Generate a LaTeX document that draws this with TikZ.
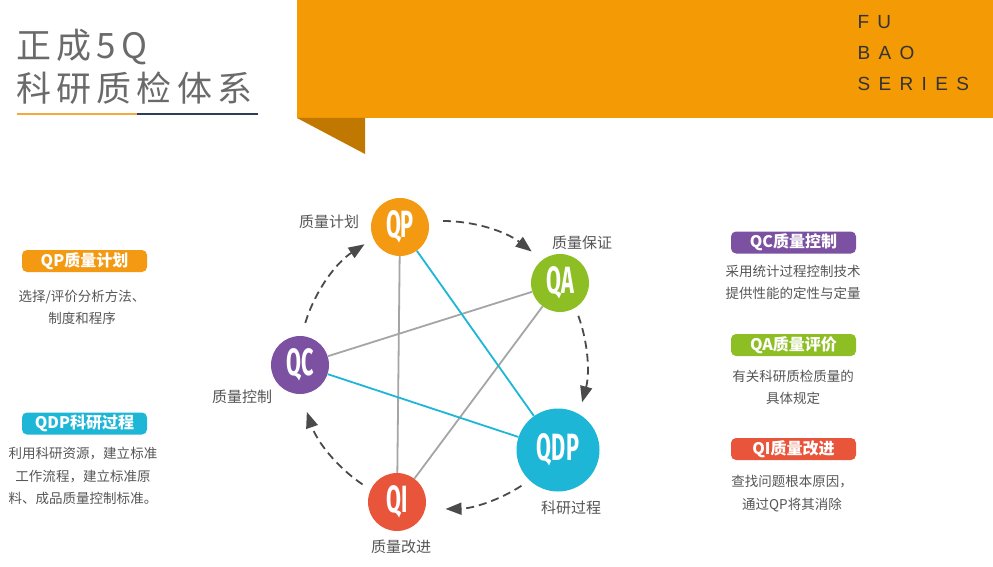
\documentclass[tikz,border=0pt]{standalone}
\usepackage{graphicx}
\usepackage{fontspec}
\setmainfont{Noto Sans CJK SC}
\newfontfamily\seriesfont{Liberation Sans}
\newfontfamily\ballfont{Fira Sans}
\usetikzlibrary{arrows.meta}

\begin{document}
\begin{tikzpicture}[x=1pt, y=1pt,
    ball/.style={circle, minimum size=58pt, inner sep=0pt, text=white, font=\ballfont\bfseries\fontsize{38}{38}\selectfont},
    tag/.style={rounded corners=5pt, minimum width=125pt, minimum height=22pt, inner sep=0pt, text=white, font=\fontsize{16}{16}\selectfont\bfseries},
    note/.style={align=center, text=textColour, font=\fontsize{13.5}{22.5}\selectfont},
    caption/.style={text=textColour, font=\fontsize{15}{15}\selectfont},
    link/.style={line width=1.8pt, lineGrey},
    flow/.style={line width=1.8pt, flowGrey, dash pattern=on 8pt off 5pt, -{Triangle[length=16pt,width=12pt]}}]
    % Define colours
    \definecolor{headOrange}{HTML}{F39A05}
    \definecolor{foldOrange}{HTML}{C17800}
    \definecolor{titleGrey}{HTML}{6A6A6A}
    \definecolor{textColour}{HTML}{555555}
    \definecolor{ruleNavy}{HTML}{2E3E55}
    \definecolor{ruleOrange}{HTML}{F3A93B}
    \definecolor{qpColour}{HTML}{F39A12}
    \definecolor{qaColour}{HTML}{8DBE24}
    \definecolor{qcColour}{HTML}{7C51A1}
    \definecolor{qdpColour}{HTML}{1DB6D6}
    \definecolor{qiColour}{HTML}{E9553A}
    \definecolor{lineGrey}{HTML}{A5A5A5}
    \definecolor{flowGrey}{HTML}{4A4A4A}

    % Define ring radius
    \def\ringRadius{144pt}

    \useasboundingbox (0,0) rectangle (993,-567);

    % Draw header ribbon
    \fill[headOrange] (297,0) rectangle (993,-118);
    \fill[foldOrange] (297,-118) -- (365,-118) -- (365,-154) -- cycle;
    \node[anchor=west, text=black!80, font=\seriesfont\fontsize{19}{19}\selectfont\addfontfeatures{LetterSpace=44}] (fu) at (854,-22) {FU};
    \node[anchor=west, text=black!80, font=\seriesfont\fontsize{19}{19}\selectfont\addfontfeatures{LetterSpace=44}] (bao) at (854,-53) {BAO};
    \node[anchor=west, text=black!80, font=\seriesfont\fontsize{19}{19}\selectfont\addfontfeatures{LetterSpace=44}] (series) at (854,-84) {SERIES};

    % Draw title and rule
    \node[anchor=west, inner sep=0pt, text=titleGrey, font=\fontsize{35}{35}\selectfont\addfontfeatures{LetterSpace=15}] (title1) at (16,-47) {正成5Q};
    \node[anchor=west, inner sep=0pt, text=titleGrey, font=\fontsize{35}{35}\selectfont\addfontfeatures{LetterSpace=15}] (title2) at (16,-88) {科研质检体系};
    \draw[line width=2pt, ruleOrange] (17,-114) -- (137,-114);
    \draw[line width=2pt, ruleNavy] (137,-114) -- (258,-114);

    % Define ring centre
    \coordinate (ring) at (443,-365);

    % Draw the five circles
    \node[ball, fill=qpColour] (qp) at (400,-227) {\scalebox{0.57}[1]{QP}};
    \node[ball, fill=qaColour] (qa) at (560,-283) {\scalebox{0.57}[1]{QA}};
    \node[ball, fill=qcColour] (qc) at (300,-365) {\scalebox{0.57}[1]{QC}};
    \node[ball, fill=qdpColour, minimum size=83pt] (qdp) at (558,-450) {\scalebox{0.57}[1]{QDP}};
    \node[ball, fill=qiColour] (qi) at (397,-502) {\scalebox{0.57}[1]{QI}};

    % Draw the star links
    \draw[link] (qp) -- (qi);
    \draw[link] (qa) -- (qc);
    \draw[link] (qa) -- (qi);
    \draw[link, qdpColour] (qp) -- (qdp);
    \draw[link, qdpColour] (qc) -- (qdp);

    % Draw the dashed cycle
    \draw[flow] (ring) ++(90:\ringRadius) arc[start angle=90, end angle=52, radius=\ringRadius];
    \draw[flow] (ring) ++(20:\ringRadius) arc[start angle=20, end angle=-15, radius=\ringRadius];
    \draw[flow] (ring) ++(-57:\ringRadius) arc[start angle=-57, end angle=-89, radius=\ringRadius];
    \draw[flow] (ring) ++(-124:\ringRadius) arc[start angle=-124, end angle=-161, radius=\ringRadius];
    \draw[flow] (ring) ++(163:\ringRadius) arc[start angle=163, end angle=123, radius=\ringRadius];

    % Label the circles
    \node[caption] (qpCap) at (329,-222) {质量计划};
    \node[caption] (qaCap) at (582,-243) {质量保证};
    \node[caption] (qcCap) at (242,-397) {质量控制};
    \node[caption] (qdpCap) at (571,-508) {科研过程};
    \node[caption] (qiCap) at (401,-547) {质量改进};

    % Left column
    \node[tag, fill=qpColour] (qpTag) at (84.5,-261) {QP质量计划};
    \node[note] (qpNote) at (82,-307.5) {选择/评价分析方法、\\制度和程序};
    \node[tag, fill=qdpColour] (qdpTag) at (84.5,-423.5) {QDP科研过程};
    \node[note] (qdpNote) at (83,-476) {利用科研资源，建立标准\\工作流程，建立标准原\\料、成品质量控制标准。};

    % Right column
    \node[tag, fill=qcColour] (qcTag) at (793.5,-242.5) {QC质量控制};
    \node[note] (qcNote) at (793,-282.5) {采用统计过程控制技术\\提供性能的定性与定量};
    \node[tag, fill=qaColour] (qaTag) at (793.5,-345) {QA质量评价};
    \node[note] (qaNote) at (793,-387.5) {有关科研质检质量的\\具体规定};
    \node[tag, fill=qiColour] (qiTag) at (793.5,-449) {QI质量改进};
    \node[note] (qiNote) at (792,-493.5) {查找问题根本原因，\\通过QP将其消除};
\end{tikzpicture}
\end{document}
